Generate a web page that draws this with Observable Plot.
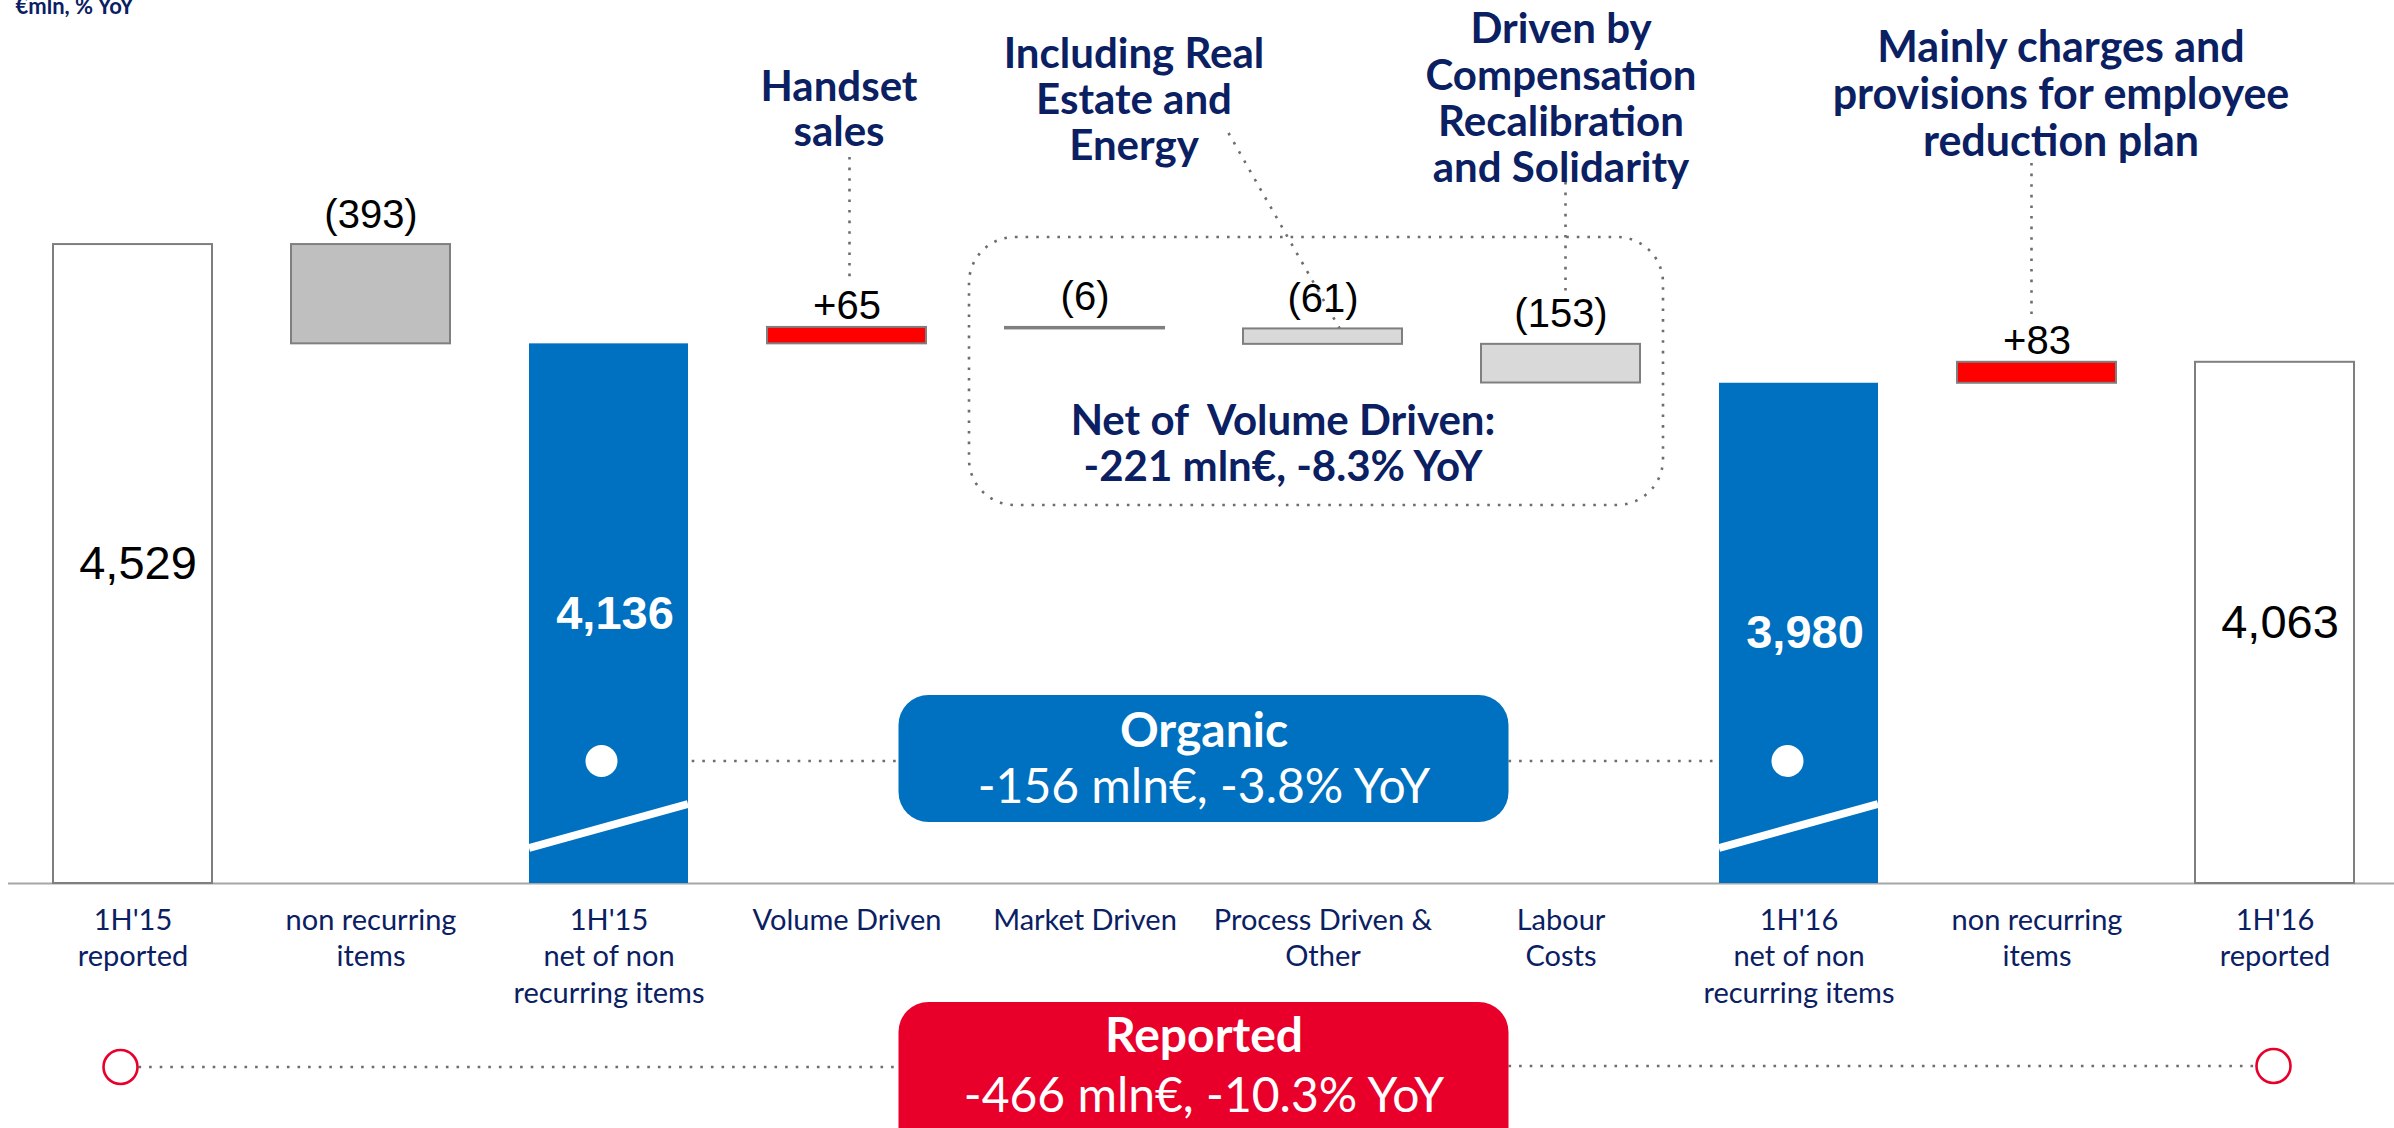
<!DOCTYPE html>
<html>
<head>
<meta charset="utf-8">
<script src="https://cdn.jsdelivr.net/npm/d3@7"></script>
<script src="https://cdn.jsdelivr.net/npm/@observablehq/plot@0.6"></script>
<style>
  html, body { margin: 0; padding: 0; background: #ffffff; overflow: hidden; }
  #chart svg { display: block; }
</style>
</head>
<body>
<div id="chart"></div>
<script>
// ---------------- data ----------------
const labels = [
  "1H'15\nreported",
  "non recurring\nitems",
  "1H'15\nnet of non\nrecurring items",
  "Volume Driven",
  "Market Driven",
  "Process Driven &\nOther",
  "Labour\nCosts",
  "1H'16\nnet of non\nrecurring items",
  "non recurring\nitems",
  "1H'16\nreported"
];
const values = [4529, -393, 4136, 65, -6, -61, -153, 3980, 83, 4063];
const kinds  = ["total", "delta", "total", "delta", "delta", "delta", "delta", "total", "delta", "total"];
const groups = ["reported", "nonRecurring", "net", "driver", "driver", "driver", "driver", "net", "nonRecurring", "reported"];

const unitsNote = "€mln, % YoY";
const notes = {
  handset: "Handset\nsales",
  realEstate: "Including Real\nEstate and\nEnergy",
  labour: "Driven by\nCompensation\nRecalibration\nand Solidarity",
  nonRec: "Mainly charges and\nprovisions for employee\nreduction plan",
  netVolume: "Net of  Volume Driven:\n-221 mln€, -8.3% YoY"
};
const organicTitle = "Organic";
const organicValue = "-156 mln€, -3.8% YoY";
const reportedTitle = "Reported";
const reportedValue = "-466 mln€, -10.3% YoY";

// ---------------- scale setup ----------------
const BREAK = 2000;      // broken value axis starts here
const YTOP = 5495;
const NAVY = "#0a2062";
const BLUE = "#0070C0";
const RED_BOX = "#E8002B";
const OUTLINE = "#7f7f7f";
const DOT = "#6d6d6d";
const NUMFONT = "'Liberation Sans', Arial, sans-serif";

// waterfall geometry from the values
let run = 0;
const bars = values.map((v, i) => {
  if (kinds[i] === "total") { run = v; return {i, v, y1: BREAK, y2: v, kind: "total", group: groups[i]}; }
  const y1 = run, y2 = run + v; run = y2;
  return {i, v, y1, y2, kind: "delta", group: groups[i]};
});
const fillOf = d =>
  d.group === "reported" ? "#ffffff" :
  d.group === "net" ? BLUE :
  d.v > 0 ? "#ff0000" :
  d.group === "nonRecurring" ? "#bfbfbf" : "#d9d9d9";

const fmt = d3.format(",");

// decorations drawn from the scales
function decorBack(index, scales) {
  const x = scales.x, y = scales.y;
  const bw = x.bandwidth();
  const cx = i => x(i) + bw / 2;
  const g = d3.create("svg:g").attr("fill", "none");
  const dotted = sel => sel.attr("stroke", DOT).attr("stroke-width", 2.6).attr("stroke-dasharray", "2.6 8");
  // dotted rounded box around opex drivers
  const left = x(4) - 36, right = x(6) + bw + 23;
  g.append("rect").attr("x", left).attr("y", 237).attr("width", right - left).attr("height", 268)
    .attr("rx", 46).call(dotted);
  // leader lines
  const lines = [
    [cx(3) + 3, 157, cx(3) + 3, 277],
    [cx(5) - 94, 133, cx(5) + 18, 330],
    [cx(6) + 5, 182, cx(6) + 5, 293],
    [cx(8) - 5, 163, cx(8) - 5, 315]
  ];
  for (const [a, b, c, d] of lines) g.append("line").attr("x1", a).attr("y1", b).attr("x2", c).attr("y2", d).call(dotted);
  // organic connector
  const mid = (cx(4) + cx(5)) / 2, half = 305;
  const d1 = cx(2) - 7, d2 = cx(7) - 11;
  g.append("line").attr("x1", d1 + 16).attr("x2", mid - half).attr("y1", 761).attr("y2", 761).call(dotted);
  g.append("line").attr("x1", mid + half).attr("x2", d2 - 16).attr("y1", 761).attr("y2", 761).call(dotted);
  // reported connector
  const r1 = cx(0) - 12, r2 = cx(9) - 1;
  g.append("line").attr("x1", r1 + 18).attr("x2", mid - half).attr("y1", 1067).attr("y2", 1067).call(dotted);
  g.append("line").attr("x1", mid + half).attr("x2", r2 - 18).attr("y1", 1066).attr("y2", 1066).call(dotted);
  // boxes
  g.append("rect").attr("x", mid - half).attr("y", 695).attr("width", 2 * half).attr("height", 127)
    .attr("rx", 30).attr("fill", BLUE);
  g.append("rect").attr("x", mid - half).attr("y", 1002).attr("width", 2 * half).attr("height", 170)
    .attr("rx", 30).attr("fill", RED_BOX);
  // red hollow circles
  for (const [cxx, cyy] of [[r1, 1067], [r2, 1066]])
    g.append("circle").attr("cx", cxx).attr("cy", cyy).attr("r", 17).attr("fill", "#fff")
      .attr("stroke", RED_BOX).attr("stroke-width", 2.6);
  return g.node();
}

function decorFront(index, scales) {
  const x = scales.x, y = scales.y;
  const bw = x.bandwidth();
  const cx = i => x(i) + bw / 2;
  const Y0 = y(BREAK);
  const g = d3.create("svg:g");
  for (const i of [2, 7]) {
    g.append("line").attr("x1", x(i)).attr("y1", Y0 - 35).attr("x2", x(i) + bw).attr("y2", Y0 - 79)
      .attr("stroke", "#fff").attr("stroke-width", 8);
  }
  g.append("circle").attr("cx", cx(2) - 7).attr("cy", 761).attr("r", 16).attr("fill", "#fff");
  g.append("circle").attr("cx", cx(7) - 11).attr("cy", 761).attr("r", 16).attr("fill", "#fff");
  return g.node();
}

const noteText = (i, text, o) =>
  Plot.text([text], {x: () => i, text: d => d, frameAnchor: "top", lineAnchor: "top",
    fill: NAVY, fontWeight: "bold", fontSize: 42, ...o});

const chart = Plot.plot({
  width: 2394,
  height: 1128,
  marginTop: 0, marginLeft: 0, marginRight: 0, marginBottom: 245,
  style: {fontFamily: "Lato, 'Open Sans', sans-serif", background: "#fff"},
  x: {type: "band", domain: d3.range(labels.length), range: [50, 2357], paddingInner: 0.334, paddingOuter: 0, axis: null},
  y: {domain: [BREAK, YTOP], axis: null},
  marks: [
    decorBack,
    Plot.ruleY([BREAK], {stroke: "#a6a6a6", strokeWidth: 2, insetLeft: 8}),
    Plot.barY(bars.filter(d => d.group !== "net"), {x: "i", y1: "y1", y2: "y2", fill: fillOf, stroke: OUTLINE, strokeWidth: 2}),
    Plot.barY(bars.filter(d => d.group === "net"), {x: "i", y1: "y1", y2: "y2", fill: BLUE}),
    decorFront,
    // value labels
    Plot.text(bars.filter(d => d.group === "reported"), {x: "i", y: d => (BREAK + d.v) / 2, text: d => fmt(d.v),
      fontSize: 47, fontFamily: NUMFONT, fill: "#000", dx: 5}),
    Plot.text(bars.filter(d => d.group === "net"), {x: "i", y: d => (BREAK + d.v) / 2, text: d => fmt(d.v),
      fontSize: 47, fontFamily: NUMFONT, fontWeight: "bold", fill: "#fff", dx: 6}),
    Plot.text(bars.filter(d => d.kind === "delta" && d.v < 0), {x: "i", y: d => Math.max(d.y1, d.y2), text: d => `(${-d.v})`,
      lineAnchor: "bottom", dy: -17, fontSize: 40, fontFamily: NUMFONT, fill: "#000"}),
    Plot.text(bars.filter(d => d.kind === "delta" && d.v > 0), {x: "i", y: d => Math.max(d.y1, d.y2), text: d => `+${d.v}`,
      lineAnchor: "bottom", dy: -8, fontSize: 40, fontFamily: NUMFONT, fill: "#000"}),
    // category labels
    Plot.text(labels, {x: (d, i) => i, text: d => d, frameAnchor: "bottom", lineAnchor: "top", dy: 21,
      fontSize: 29, lineHeight: 1.25, fill: NAVY}),
    // annotations
    noteText(3, notes.handset, {dx: -8, dy: 69, lineHeight: 1.07}),
    noteText(4, notes.realEstate, {dx: 49, dy: 35, lineHeight: 1.095}),
    noteText(6, notes.labour, {dx: 0, dy: 10, lineHeight: 1.1}),
    noteText(8, notes.nonRec, {dx: 24, dy: 28, fontSize: 43, lineHeight: 1.09}),
    noteText(5, notes.netVolume, {dx: -40, dy: 402, lineHeight: 1.095}),
    // boxes text
    Plot.text([organicTitle], {x: () => 4, text: d => d, frameAnchor: "top", lineAnchor: "top", dx: 119, dy: 712,
      fill: "#fff", fontWeight: "bold", fontSize: 48}),
    Plot.text([organicValue], {x: () => 4, text: d => d, frameAnchor: "top", lineAnchor: "top", dx: 119, dy: 768,
      fill: "#fff", fontSize: 48}),
    Plot.text([reportedTitle], {x: () => 4, text: d => d, frameAnchor: "top", lineAnchor: "top", dx: 119, dy: 1017,
      fill: "#fff", fontWeight: "bold", fontSize: 48}),
    Plot.text([reportedValue], {x: () => 4, text: d => d, frameAnchor: "top", lineAnchor: "top", dx: 119, dy: 1077,
      fill: "#fff", fontSize: 48}),
    // units note
    Plot.text([unitsNote], {frameAnchor: "top-left", text: d => d, textAnchor: "start", lineAnchor: "bottom",
      dx: 15, dy: 13, fontSize: 22, fontWeight: "bold", fill: NAVY})
  ]
});
document.getElementById("chart").append(chart);
</script>
</body>
</html>
